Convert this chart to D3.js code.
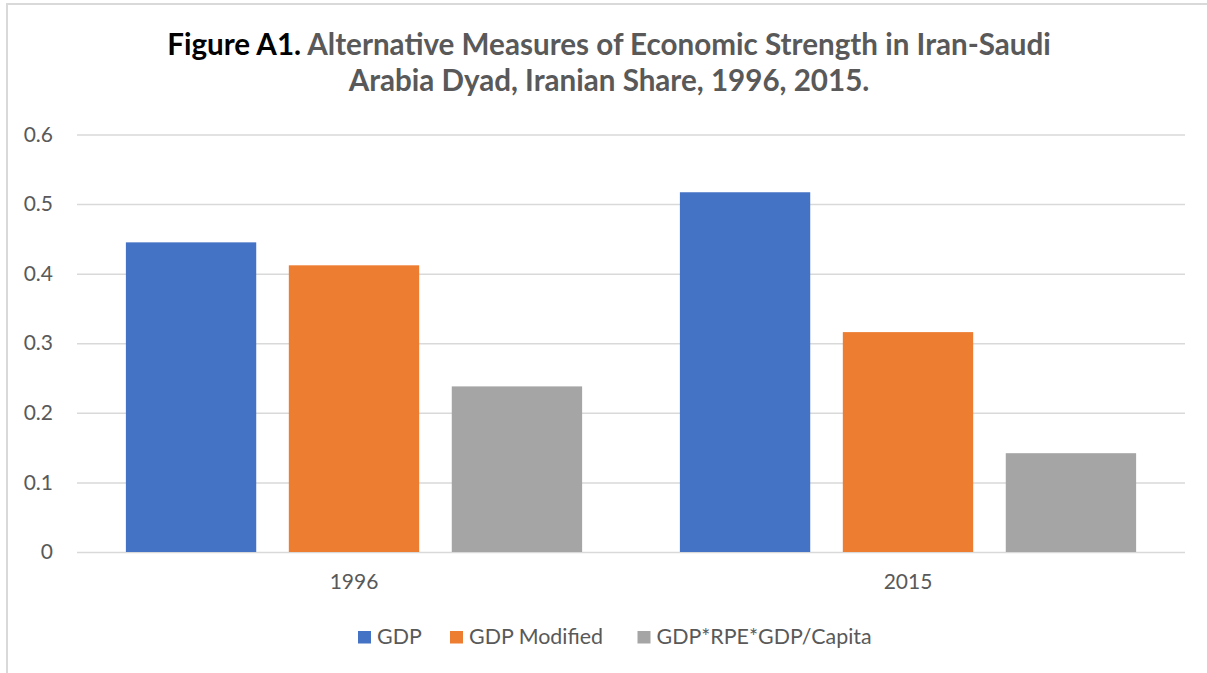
<!DOCTYPE html>
<html>
<head>
<meta charset="utf-8">
<script src="https://cdn.jsdelivr.net/npm/d3@7/dist/d3.min.js"></script>
<style>
  html, body { margin: 0; padding: 0; background: #fff; }
  svg { display: block; font-family: Lato, "Open Sans", sans-serif; }
</style>
</head>
<body>
<svg id="chart" width="1207" height="673"></svg>
<script>
// Iranian share of the Iran–Saudi Arabia dyad under three measures
const years = ["1996", "2015"];
const seriesNames = ["GDP", "GDP Modified", "GDP*RPE*GDP/Capita"];
const gdp = [0.445, 0.517];
const gdpModified = [0.412, 0.316];
const gdpRpeCapita = [0.238, 0.142];
const yTicks = [0, 0.1, 0.2, 0.3, 0.4, 0.5, 0.6];
const colors = ["#4472C4", "#ED7D31", "#A5A5A5"];

const seriesValues = [gdp, gdpModified, gdpRpeCapita];
const rows = years.map((yr, i) => ({
  year: yr,
  values: seriesNames.map((s, k) => ({ series: s, value: seriesValues[k][i] }))
}));

const svg = d3.select("#chart");
const textColor = "#595959";
const gridColor = "#D9D9D9";

// chart frame
svg.append("line").attr("x1", 7).attr("x2", 7).attr("y1", 3).attr("y2", 673)
  .attr("stroke", gridColor).attr("stroke-width", 2);
svg.append("line").attr("x1", 6).attr("x2", 1207).attr("y1", 4).attr("y2", 4)
  .attr("stroke", gridColor).attr("stroke-width", 2);

const plot = { left: 77, right: 1185, top: 134.5, bottom: 552 };

const x0 = d3.scaleBand().domain(years).range([plot.left, plot.right])
  .paddingInner(0).paddingOuter(0);
const x1 = d3.scaleBand().domain(seriesNames).range([0, x0.bandwidth()])
  .paddingInner(0.2).paddingOuter(0.3);
const y = d3.scaleLinear().domain([0, 0.6]).range([plot.bottom, plot.top]);
const color = d3.scaleOrdinal().domain(seriesNames).range(colors);

// gridlines and y labels
const yAxis = d3.axisLeft(y)
  .tickValues(yTicks)
  .tickSize(-(plot.right - plot.left))
  .tickPadding(24)
  .tickFormat(d => d === 0 ? "0" : d3.format(".1f")(d));
const gy = svg.append("g").attr("transform", `translate(${plot.left},0)`).call(yAxis);
gy.select(".domain").remove();
gy.selectAll(".tick line").attr("stroke", gridColor).attr("stroke-width", 1.5);
gy.selectAll(".tick text").attr("fill", textColor).attr("font-size", 21)
  .attr("font-family", "Lato, sans-serif");

// bars
svg.append("g").selectAll("g").data(rows).join("g")
  .attr("transform", d => `translate(${x0(d.year)},0)`)
  .selectAll("rect").data(d => d.values).join("rect")
  .attr("x", d => x1(d.series))
  .attr("width", x1.bandwidth())
  .attr("y", d => y(d.value))
  .attr("height", d => y(0) - y(d.value))
  .attr("fill", d => color(d.series));

// x axis labels
const xAxis = d3.axisBottom(x0).tickSize(0).tickPadding(22);
const gx = svg.append("g").attr("transform", `translate(0,${plot.bottom})`).call(xAxis);
gx.select(".domain").remove();
gx.selectAll(".tick text").attr("fill", textColor).attr("font-size", 21)
  .attr("font-family", "Lato, sans-serif");

// title
const title = svg.append("text").attr("text-anchor", "middle")
  .attr("font-weight", "bold").attr("font-size", 29.6).attr("fill", textColor);
const line1 = title.append("tspan").attr("x", 609).attr("y", 55);
line1.append("tspan").attr("fill", "#000").text("Figure A1. ");
line1.append("tspan").text("Alternative Measures of Economic Strength in Iran-Saudi");
title.append("tspan").attr("x", 609).attr("y", 91)
  .text("Arabia Dyad, Iranian Share, 1996, 2015.");

// legend
const legendX = [358, 450, 637.5];
const legend = svg.append("g").selectAll("g").data(seriesNames).join("g")
  .attr("transform", (d, i) => `translate(${legendX[i]},631)`);
legend.append("rect").attr("width", 13).attr("height", 12.5).attr("fill", d => color(d));
legend.append("text").attr("x", 19).attr("y", 12.5)
  .attr("font-size", 21.4).attr("fill", textColor).text(d => d);
</script>
</body>
</html>
